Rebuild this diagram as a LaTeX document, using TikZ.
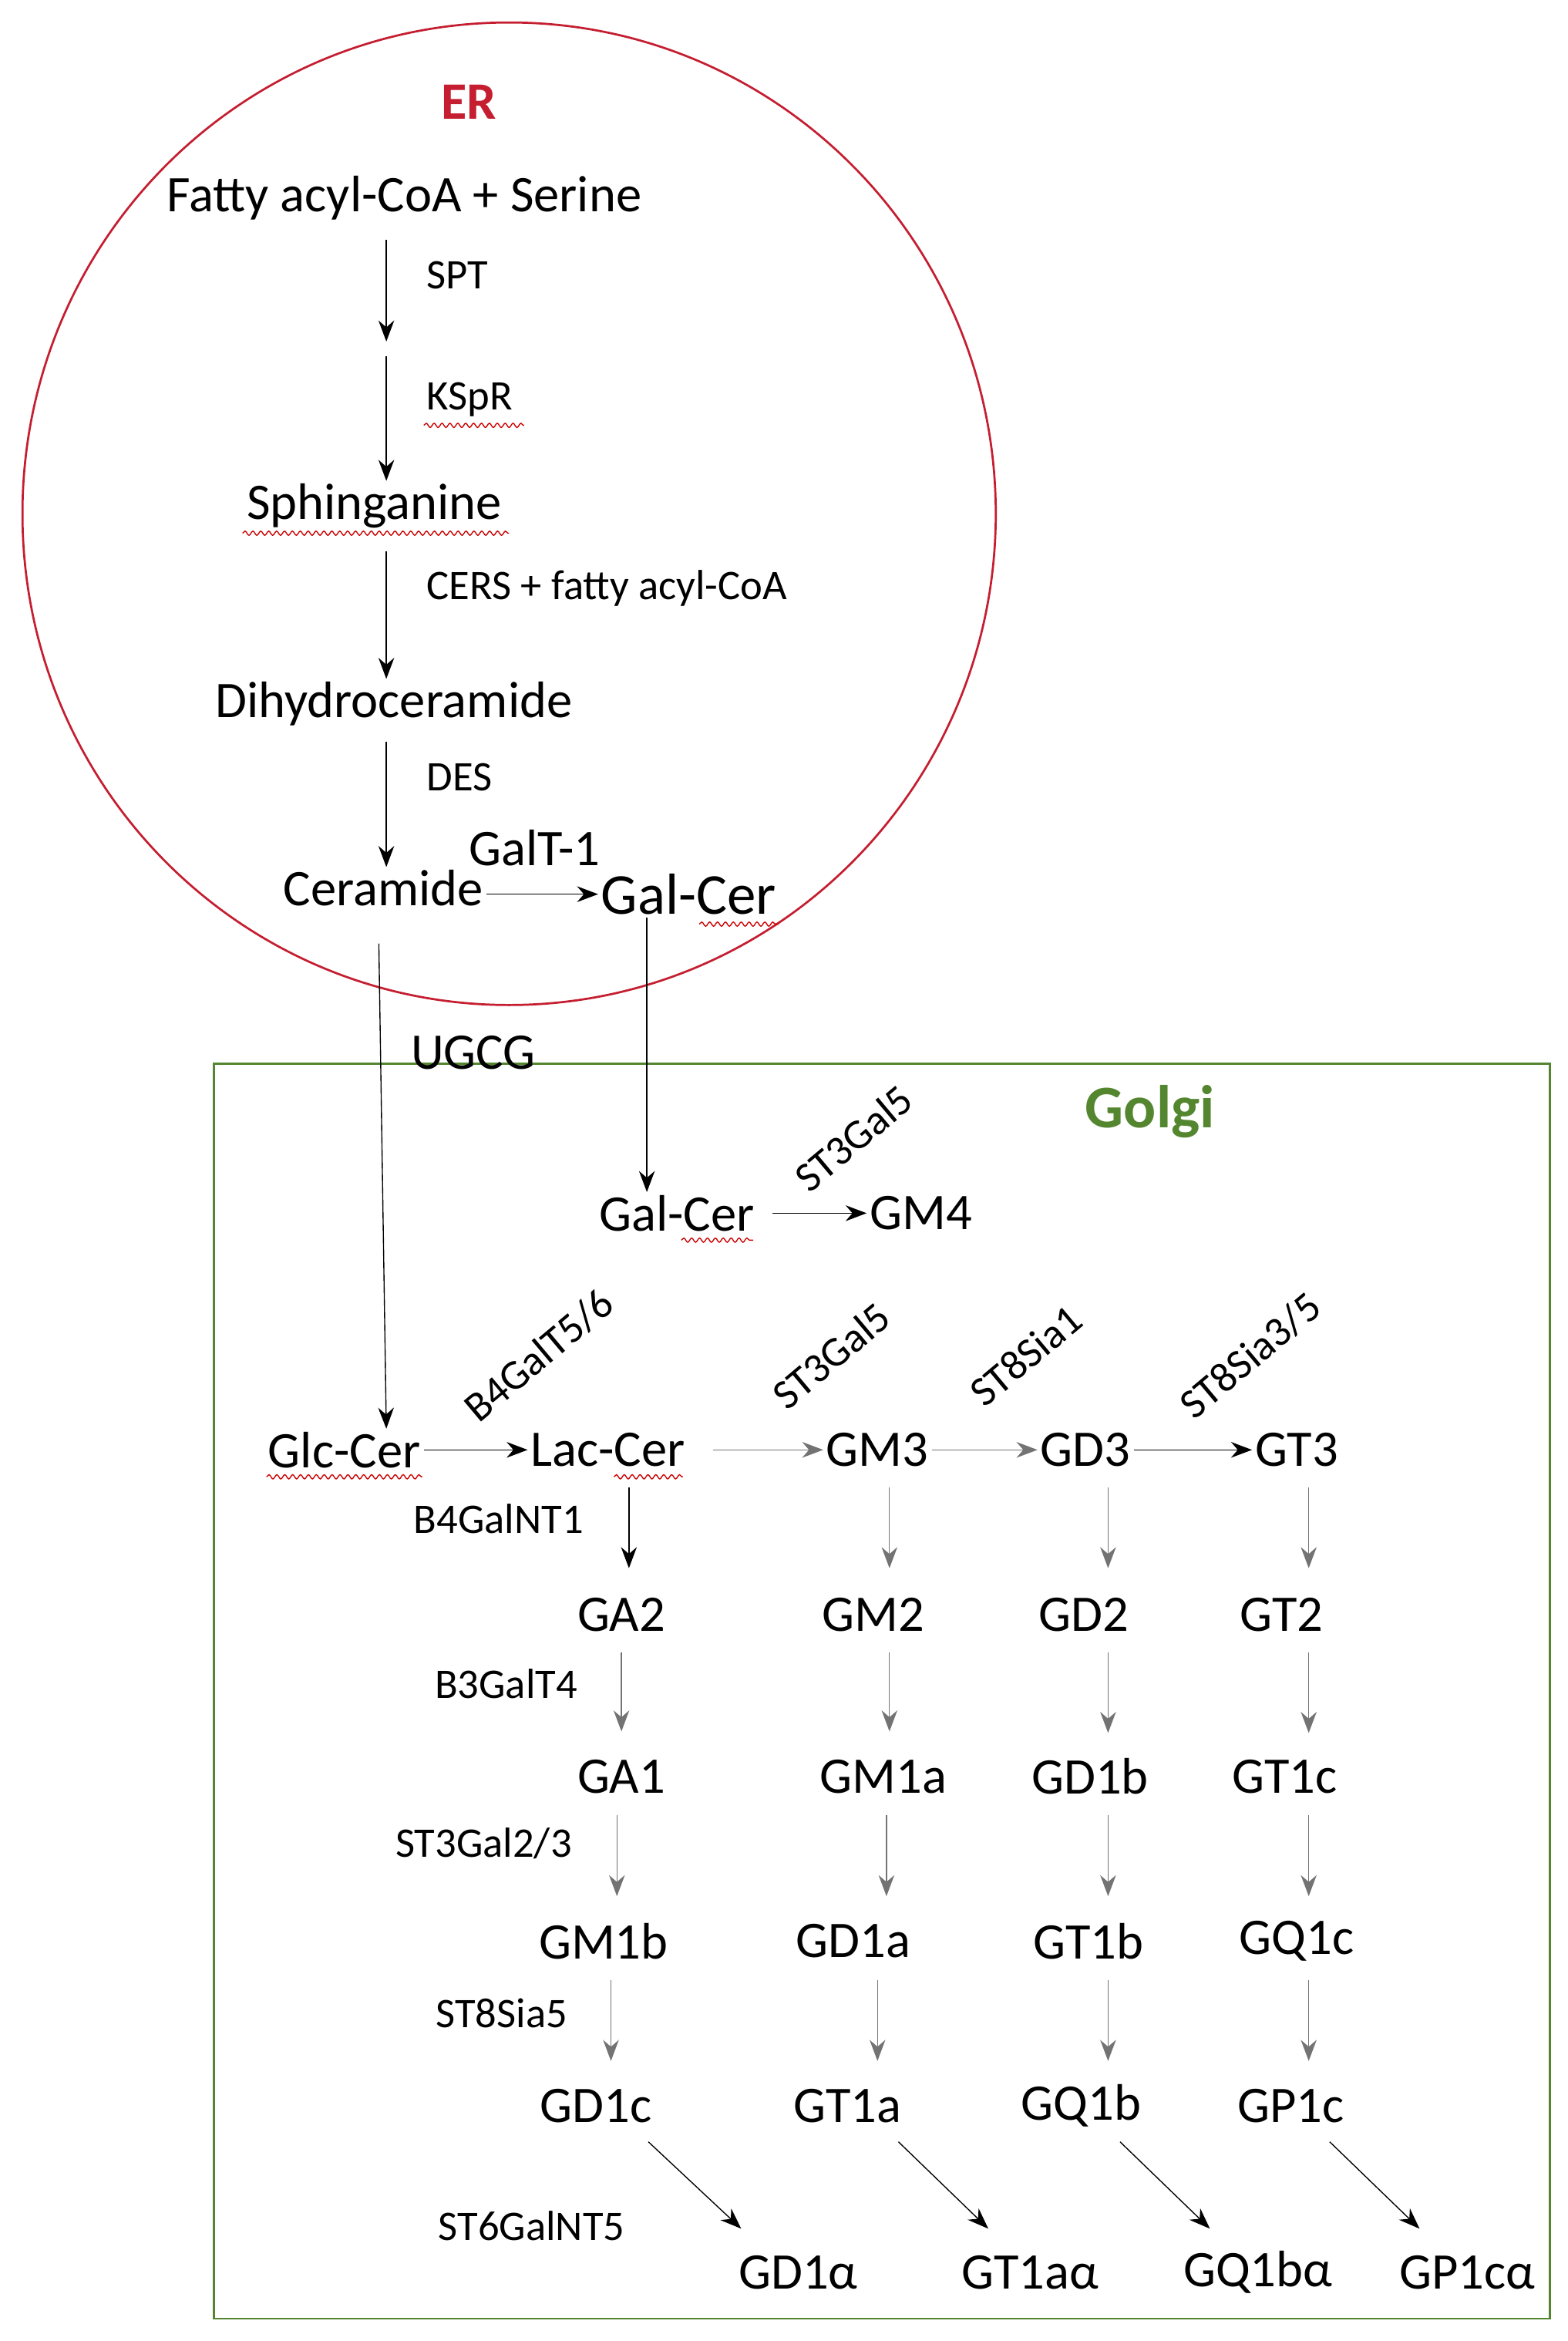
\documentclass[tikz,border=0pt]{standalone}
\usepackage{fontspec}
\setmainfont{Carlito}
\usepackage{tikz}
\usetikzlibrary{arrows.meta, decorations.pathmorphing}
\definecolor{golgigreen}{RGB}{84,134,48}
\definecolor{errred}{RGB}{196,30,48}

\begin{document}
\begin{tikzpicture}[x=0.02cm, y=-0.02cm,
    met/.style={font=\fontsize{19.5}{22}\selectfont, inner sep=1pt},
    enz/.style={font=\fontsize{16}{18}\selectfont, inner sep=1pt},
    conv/.style={-{Stealth[length=8pt,width=6pt]}, thin},
    grey/.style={conv, draw=black!55},
    wavy/.style={draw=red!80!black, thin, decorate, decoration={snake, amplitude=0.8pt, segment length=3pt}}]
    \useasboundingbox (0,0) rectangle (1047,1563);

    % compartments
    \draw[errred, line width=0.8pt] (340,343) ellipse (325 and 328);
    \draw[golgigreen, line width=0.8pt] (143,710) rectangle (1035,1548);
    \node[font=\fontsize{20}{22}\selectfont\bfseries, text=errred] (er) at (313,68) {ER};
    \node[font=\fontsize{23}{25}\selectfont\bfseries, text=golgigreen] (golgi) at (768,742) {Golgi};

    % ER
    \node[met] (fatty) at (270,132) {Fatty acyl-CoA + Serine};
    \coordinate (k1) at (258,228);
    \coordinate (k2) at (258,238);
    \node[met] (sphing) at (250,338) {Sphinganine};
    \node[met] (dihydro) at (263,470) {Dihydroceramide};
    \node[met] (cer) at (256,593) {Ceramide};
    \node[met, font=\fontsize{22}{24}\selectfont] (galcer1) at (460,597) {Gal-Cer};
    \draw[conv] (258,160) -- (k1);
    \draw[conv] (k2) -- (sphing.north -| k2);
    \draw[conv] (258,368) -- (dihydro.north -| k2);
    \draw[conv] (258,495) -- (cer.north -| k2);
    \draw[conv] (cer.east |- 0,597) -- (galcer1.west);
    \node[enz, anchor=west] at (283,184) {SPT};
    \node[enz, anchor=west] (kspr) at (283,267) {KSpR};
    \node[enz, anchor=west] at (283,393) {CERS + fatty acyl-CoA};
    \node[enz, anchor=west] at (283,519) {DES};
    \node[met] at (357,566) {GalT-1};

    % Golgi
    \node[met] (ugcg) at (316,703) {UGCG};
    \node[met] (galcer2) at (452,810) {Gal-Cer};
    \node[met] (gm4) at (615,810) {GM4};
    \node[met] (glc) at (230,968) {Glc-Cer};
    \node[met] (lac) at (406,968) {Lac-Cer};
    \node[met] (gm3) at (586,968) {GM3};
    \node[met] (gd3) at (725,968) {GD3};
    \node[met] (gt3) at (866,968) {GT3};
    \draw[conv] (253,630) -- (glc.north -| 258,0);
    \draw[conv] (galcer1.south -| 432,0) -- (galcer2.north -| 432,0);
    \draw[conv] (galcer2.east) ++(10,0) -- (gm4.west);
    \draw[conv] (glc.east) -- (lac.west);
    \draw[grey] (476,968) -- (gm3.west);
    \draw[grey] (gm3.east) -- (gd3.west);
    \draw[conv] (gd3.east) -- (gt3.west);
    \node[enz, rotate=40] at (570,760) {ST3Gal5};
    \node[enz, rotate=40] at (360,905) {B4GalT5/6};
    \node[enz, rotate=40] at (555,905) {ST3Gal5};
    \node[enz, rotate=40] at (685,905) {ST8Sia1};
    \node[enz, rotate=40] at (835,905) {ST8Sia3/5};

    % columns
    \node[met] (ga2) at (415,1078) {GA2};
    \node[met] (ga1) at (415,1186) {GA1};
    \node[met] (gm1b) at (403,1296) {GM1b};
    \node[met] (gd1c) at (398,1406) {GD1c};
    \node[met] (gm2) at (583,1078) {GM2};
    \node[met] (gm1a) at (590,1186) {GM1a};
    \node[met] (gd1a) at (570,1296) {GD1a};
    \node[met] (gt1a) at (566,1406) {GT1a};
    \node[met] (gd2) at (724,1078) {GD2};
    \node[met] (gd1b) at (728,1186) {GD1b};
    \node[met] (gt1b) at (727,1296) {GT1b};
    \node[met] (gq1b) at (722,1406) {GQ1b};
    \node[met] (gt2) at (856,1078) {GT2};
    \node[met] (gt1c) at (858,1186) {GT1c};
    \node[met] (gq1c) at (866,1296) {GQ1c};
    \node[met] (gp1c) at (862,1406) {GP1c};
    \node[met] (gd1al) at (533,1517) {GD1α};
    \node[met] (gt1aal) at (688,1517) {GT1aα};
    \node[met] (gq1bal) at (840,1517) {GQ1bα};
    \node[met] (gp1cal) at (980,1517) {GP1cα};

    \draw[conv] (420,993) -- (420,1047);
    \draw[grey] (415,1103) -- (415,1156);
    \draw[grey] (412,1212) -- (412,1266);
    \draw[grey] (408,1322) -- (408,1376);
    \draw[grey] (594,993) -- (594,1047);
    \draw[grey] (594,1103) -- (594,1156);
    \draw[grey] (592,1212) -- (592,1266);
    \draw[grey] (586,1322) -- (586,1376);
    \foreach \y in {993,1103,1212,1322} {
        \draw[grey] (740,\y) -- (740,\y+54);
        \draw[grey] (874,\y) -- (874,\y+54);
    }
    \draw[conv] (433,1430) -- (495,1488);
    \draw[conv] (600,1430) -- (660,1488);
    \draw[conv] (748,1430) -- (808,1488);
    \draw[conv] (888,1430) -- (948,1488);

    \node[enz] at (333,1014) {B4GalNT1};
    \node[enz] at (338,1124) {B3GalT4};
    \node[enz] at (323,1231) {ST3Gal2/3};
    \node[enz] at (335,1344) {ST8Sia5};
    \node[enz] at (355,1486) {ST6GalNT5};

    % spell-check underlines
    \draw[wavy] (283,284) -- (350,284);
    \draw[wavy] (162,356) -- (340,356);
    \draw[wavy] (467,617) -- (520,617);
    \draw[wavy] (455,828) -- (503,828);
    \draw[wavy] (178,986) -- (282,986);
    \draw[wavy] (410,986) -- (456,986);
\end{tikzpicture}
\end{document}
